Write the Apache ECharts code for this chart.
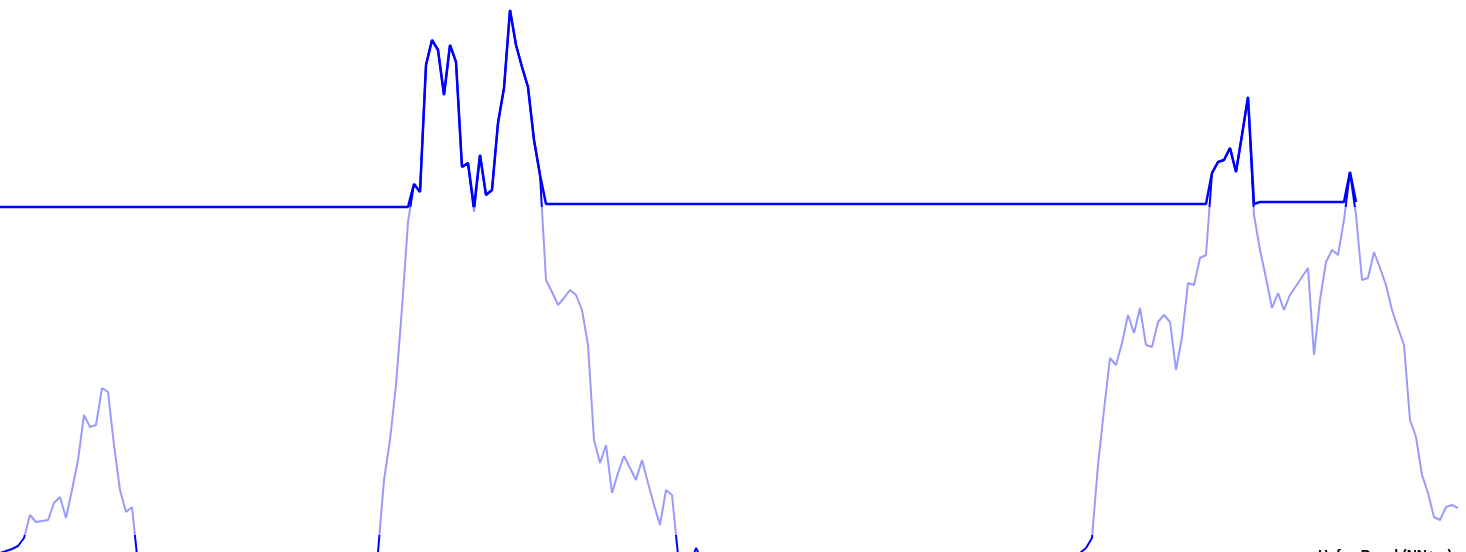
<!DOCTYPE html>
<html>
<head>
<meta charset="utf-8">
<style>
html,body{margin:0;padding:0;background:#fff;overflow:hidden;width:1466px;height:552px;}
#chart{width:1466px;height:600px;}
</style>
<script src="https://cdn.jsdelivr.net/npm/echarts@6/dist/echarts.min.js"></script>
</head>
<body>
<div id="chart"></div>
<script>
// water level readings (cm above reference), one reading per step
const levelStart = [47,49,51,54,62,85,78,79,80,97,103,82,110,140,185,173,175,212,208,155,110,88,93,35];
const levelLow1 = [30,22,18,15,20,25,18,12,10,14,20,16,12,8,12,18,22,17,14,20,26,22,18,24,30,35,28,25,30,32,28,26,30,36,40,38,42,44,40];
const levelPeak1 = [48,120,160,215,292,378,416,408,535,560,550,505,555,538,433,437,388,445,405,410,477,512,590,555,533,513,460,425,320,308,295,302,310,305,290,255,160,137,155,107,127,144,132,120,140,117,95,75,110,105,45,25,35,52,40];
const levelLow2 = [30,22,18,12,10,15,20,18,14,10,8,12,16,20,24,20,16,12,10,14,18,22,26,24,20,18,22,28,32,30,26,22,18,20,24,28,26,22,20,24,28,30,27,24,22,25,29,33,30,27,25,28,32,35,33,30,34,38,41,39,42,45];
const levelPeak2 = [47,52,62,135,190,242,235,257,285,267,292,255,253,278,285,278,230,263,317,315,342,345,427,438,440,452,428,465,503,385,350,322,292,307,290,305,314,323,332,245,300,338,350,345,380,428,385,320,322,348,332,315,290,272,255,180,163,125,107,83,80,93,95,92];

// alert level (cm) and the reading index from which each applies; alert trace ends at alertEnd
const alertLevels = [393, 396, 398];
const alertStarts = [0, 80, 210];
const alertEnd = 226;
const lowLevel = 65;

const level = [].concat(levelStart, levelLow1, levelPeak1, levelLow2, levelPeak2);
const categories = level.map((_, i) => String(i));

function alertAt(i) {
  let v = alertLevels[0];
  for (let k = 0; k < alertStarts.length; k++) if (i >= alertStarts[k]) v = alertLevels[k];
  return v;
}
const alertTrace = level.map((v, i) => i > alertEnd ? null : Math.max(v, alertAt(i)));

const chart = echarts.init(document.getElementById('chart'), null, {renderer: 'canvas'});
chart.setOption({
  animation: false,
  backgroundColor: '#ffffff',
  grid: {left: 0, right: 8, top: 0, bottom: 0, containLabel: false},
  xAxis: {
    type: 'category', data: categories, boundaryGap: false,
    axisLine: {show: false}, axisTick: {show: false}, axisLabel: {show: false}, splitLine: {show: false}
  },
  yAxis: {
    type: 'value', min: 0, max: 600,
    axisLine: {show: false}, axisTick: {show: false}, axisLabel: {show: false}, splitLine: {show: false}
  },
  visualMap: {
    show: false, type: 'piecewise', seriesIndex: 0, dimension: 1,
    pieces: [
      {lt: lowLevel, color: '#0000ff'},
      {gte: lowLevel, lte: alertLevels[0], color: 'rgba(0,0,255,0.4)'},
      {gt: alertLevels[0], color: '#0000ff'}
    ]
  },
  graphic: [{
    type: 'text', left: 1318, top: 549,
    style: {text: 'Hafen Pegel (NN+m)', fill: '#000', font: 'bold 14px "Liberation Sans", Arial, sans-serif'}
  }],
  series: [
    {
      name: 'Pegel', type: 'line', data: level, showSymbol: false, symbol: 'none',
      lineStyle: {width: 2}, z: 2
    },
    {
      name: 'Alarm', type: 'line', data: alertTrace, showSymbol: false, symbol: 'none',
      connectNulls: false,
      lineStyle: {width: 2.5, color: '#0000ff'}, itemStyle: {color: '#0000ff'}, z: 3
    }
  ]
});
</script>
</body>
</html>
